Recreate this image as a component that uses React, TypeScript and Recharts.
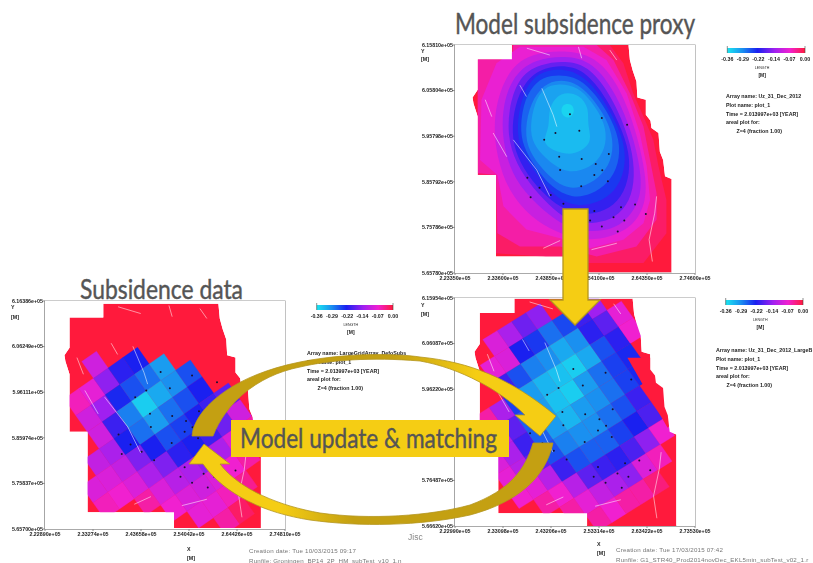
import { ScatterChart, Scatter, XAxis, YAxis, ReferenceArea } from "recharts";

type Pt = [number, number];

// all field geometry is in km (easting, northing), the axis labels multiply by 1000
const fieldOutline: Pt[] = [
  [235.5, 615.8], [260.4, 615.8], [260.7, 612.5], [261.3, 610.2], [262.1, 607.8], [262.3, 604.3], [264.1, 603.8], [264.1, 600.5],
  [265.1, 599.2], [265.3, 597.6], [266.8, 596.5], [267.1, 592.4], [267.8, 590.6], [268.2, 587.0], [269.6, 586.4], [269.6, 565.9],
  [250.8, 565.9], [250.8, 569.4], [232.1, 569.4], [232.1, 587.3], [228.2, 587.3], [228.2, 600.1], [227.3, 603.0], [227.1, 604.3],
  [228.2, 606.0], [228.2, 612.7], [235.5, 612.7],
];

const contourLevels = [-0.02, -0.05, -0.075, -0.105, -0.14, -0.175, -0.205, -0.235, -0.262, -0.285, -0.305, -0.325, -0.345];
const contours: Pt[][] = [
  [[235.5, 615.8], [256.4, 615.8], [259.3, 611.8], [261.4, 605.2], [263.6, 600.1], [265.7, 595.0], [266.8, 589.2], [268.5, 581.8], [268.5, 574.5], [263.6, 568.0], [249.3, 568.0], [242.2, 569.4], [232.1, 570.1], [232.1, 587.3], [228.2, 587.3], [228.2, 612.7], [235.5, 612.7]],
  [[235.8, 615.8], [253.6, 615.8], [257.2, 612.5], [260.7, 605.2], [263.6, 597.9], [265.0, 590.6], [266.4, 583.3], [266.4, 577.5], [262.1, 571.6], [253.6, 569.4], [245.8, 571.6], [237.2, 571.6], [232.4, 574.5], [232.1, 587.3], [228.2, 587.7], [228.2, 612.7], [235.5, 612.7]],
  [[237.2, 615.4], [250.8, 615.4], [255.7, 612.5], [260.0, 605.2], [262.8, 596.5], [264.3, 589.2], [265.0, 581.8], [263.6, 576.7], [259.3, 573.1], [252.2, 571.2], [245.8, 573.4], [238.6, 575.3], [233.7, 580.4], [232.4, 587.3], [228.7, 590.6], [229.0, 603.8], [232.2, 611.8]],
  [[239.0, 614.2], [249.6, 614.8], [255.4, 611.5], [259.7, 604.0], [262.5, 595.0], [264.0, 587.7], [264.3, 581.8], [261.8, 576.3], [256.6, 573.6], [250.8, 572.8], [244.9, 574.8], [239.7, 577.8], [234.7, 583.8], [232.2, 591.3], [231.4, 600.1], [234.0, 609.3]],
  [[240.0, 612.9], [249.6, 613.7], [254.7, 610.0], [259.0, 602.5], [261.8, 594.3], [263.2, 587.0], [262.9, 581.6], [259.6, 576.7], [255.2, 574.9], [250.0, 574.9], [245.6, 576.7], [240.8, 580.8], [236.1, 586.0], [233.6, 593.5], [233.3, 601.6], [235.4, 608.5]],
  [[241.1, 611.8], [249.3, 612.6], [254.0, 608.9], [258.3, 601.5], [261.1, 593.5], [261.8, 587.0], [260.8, 581.5], [257.5, 577.8], [253.6, 576.7], [249.3, 576.7], [245.5, 578.6], [241.2, 583.0], [237.2, 588.2], [234.7, 594.3], [234.7, 601.6], [236.8, 608.5]],
  [[242.2, 611.1], [248.9, 611.5], [253.3, 607.8], [257.6, 600.7], [260.4, 593.5], [260.8, 587.7], [259.0, 582.2], [255.3, 579.3], [251.5, 578.5], [247.7, 579.3], [244.0, 581.4], [239.7, 585.9], [236.5, 591.3], [235.4, 596.5], [236.1, 602.6], [238.2, 607.8]],
  [[242.9, 610.4], [248.2, 610.6], [252.9, 607.1], [256.8, 600.8], [259.7, 594.3], [259.7, 588.2], [257.6, 583.7], [253.8, 581.1], [249.3, 580.3], [244.8, 582.2], [240.7, 587.5], [237.2, 592.8], [236.5, 597.9], [237.5, 604.1], [239.7, 608.5]],
  [[243.6, 609.3], [248.9, 609.1], [252.6, 606.0], [256.1, 601.0], [258.6, 595.0], [258.4, 589.7], [256.1, 585.5], [252.4, 582.9], [248.3, 582.2], [244.0, 584.5], [240.4, 589.0], [237.9, 593.5], [237.2, 597.9], [238.2, 604.1], [240.7, 607.8]],
  [[244.7, 608.2], [248.9, 607.8], [252.2, 604.9], [255.8, 599.6], [257.2, 595.0], [256.8, 590.4], [254.2, 586.6], [250.2, 584.4], [246.6, 584.4], [243.0, 587.4], [239.7, 591.5], [238.2, 595.7], [239.0, 601.9], [241.5, 606.4]],
  [[245.4, 607.4], [249.6, 606.7], [252.6, 603.3], [255.4, 598.8], [255.8, 594.1], [253.9, 590.2], [250.2, 588.0], [246.3, 588.0], [242.6, 591.0], [240.0, 594.1], [239.3, 597.9], [240.4, 603.3], [242.2, 606.4]],
  [[245.8, 605.7], [250.1, 605.0], [252.0, 601.8], [251.6, 598.3], [252.7, 594.8], [250.3, 592.4], [247.2, 591.6], [243.2, 593.2], [242.1, 595.0], [243.6, 597.9], [243.2, 601.9]],
  [[246.0, 602.8], [248.4, 603.1], [249.0, 601.0], [247.7, 599.5], [246.0, 600.4]],
];

const wells: Pt[] = [
  [247.9, 600.6], [254.7, 599.8], [249.9, 597.0], [244.8, 596.5], [242.4, 595.0], [245.6, 591.3], [250.4, 590.8], [256.2, 591.9],
  [253.4, 589.7], [254.8, 588.3], [253.1, 587.3], [245.8, 588.4], [256.0, 585.9], [250.3, 584.8], [238.8, 586.7], [241.4, 584.5],
  [239.5, 582.4], [243.8, 582.9], [246.5, 581.0], [261.8, 580.8], [258.8, 580.2], [257.2, 578.0], [259.5, 577.3], [252.2, 577.3],
  [254.7, 576.0], [258.1, 574.9], [260.1, 598.3], [264.1, 578.7], [253.1, 579.4],
];

const faults: Pt[][] = [
  [[237.2, 607.0], [238.6, 604.5]],
  [[241.9, 606.3], [244.3, 600.5], [245.1, 597.9]],
  [[231.5, 596.5], [234.4, 591.3]],
  [[235.8, 595.0], [240.8, 588.4], [243.6, 582.6]],
  [[249.7, 615.4], [250.4, 612.9]],
  [[266.4, 582.6], [266.0, 578.9], [264.8, 573.1], [265.5, 568.3]],
  [[242.2, 571.2], [245.8, 572.9]],
  [[252.5, 570.9], [257.9, 572.3]],
  [[229.8, 603.8], [231.2, 600.1]],
  [[256.4, 614.7], [257.9, 612.5]],
  [[238.7, 615.1], [243.6, 613.6]],
];

// values per tile, rows along the second grid direction, columns start at index firstColumn
const firstColumn = -4;
const dataTiles: (number | null)[][] = [
  [null, null, null, null, -0.1],
  [null, null, -0.06, -0.08, -0.15, -0.21, -0.22],
  [null, null, -0.1, -0.14, -0.225, -0.25, -0.27, -0.3],
  [null, null, -0.1, -0.2, -0.28, -0.34, -0.31, -0.29, -0.25],
  [null, -0.11, -0.13, -0.22, -0.27, -0.3, -0.27, -0.25, -0.22],
  [-0.09, -0.09, -0.11, -0.16, -0.22, -0.25, -0.24, -0.22, -0.2, -0.18],
  [-0.06, -0.07, -0.09, -0.13, -0.16, -0.21, -0.22, -0.2, -0.17, -0.1],
  [null, null, -0.05, -0.09, -0.12, -0.13, -0.15, -0.13, -0.09, -0.05],
  [null, null, null, -0.07, -0.09, -0.1, -0.09, -0.07, -0.05],
  [null, null, null, null, -0.08, -0.08, -0.06, -0.04],
  [null, null, null, null, null, -0.05, -0.02],
];
const modelTiles: (number | null)[][] = [
  [null, null, null, null, -0.09, -0.13, -0.17, -0.15],
  [null, null, null, -0.08, -0.09, -0.22, -0.235, -0.27, -0.245, -0.2, -0.14],
  [null, null, null, -0.2, -0.25, -0.28, -0.29, -0.31, -0.29, -0.21, -0.18, -0.08],
  [null, -0.05, -0.13, -0.24, -0.3, -0.32, -0.33, -0.34, -0.31, -0.25, -0.21, -0.07],
  [null, -0.12, -0.18, -0.26, -0.3, -0.33, -0.34, -0.3, -0.27, -0.24, -0.225],
  [-0.09, -0.13, -0.2, -0.26, -0.3, -0.32, -0.3, -0.29, -0.27, -0.24, -0.225],
  [-0.08, -0.12, -0.18, -0.25, -0.28, -0.29, -0.29, -0.27, -0.25, -0.2],
  [-0.07, -0.08, -0.12, -0.2, -0.25, -0.26, -0.26, -0.24, -0.22, -0.19],
  [null, -0.05, -0.07, -0.12, -0.18, -0.2, -0.21, -0.19, -0.15, -0.07],
  [null, null, -0.05, -0.08, -0.11, -0.13, -0.15, -0.09, -0.06],
  [null, null, null, -0.05, -0.07, -0.05, -0.05, -0.03],
];
// no-data wedge on the north-east flank of the model tiles
const modelNoData: Pt[] = [[259.3, 603.0], [267.75, 587.9], [270.0, 591.1], [270.0, 603.0]];

// rotated tile grids: corner of tile (0,0) and the two edge vectors, km
const dataGrid = { origin: [230.84, 602.92], u: [3.18, 2.29], v: [2.53, -3.7] };
const modelGrid = { origin: [228.84, 606.95], u: [3.03, 1.94], v: [2.47, -3.6] };

const topX = [223.35, 233.6, 243.85, 254.1, 264.35, 274.6];
const topY = [565.78, 575.786, 585.792, 595.798, 605.804, 615.81];
const leftX = [222.89, 233.274, 243.658, 254.042, 264.426, 274.81];
const leftY = [565.7, 575.837, 585.974, 596.111, 606.249, 616.386];
const rightX = [222.99, 233.098, 243.206, 253.314, 263.422, 273.53];
const rightY = [566.62, 576.487, 586.354, 596.22, 606.087, 615.954];

const scaleValues = [-0.36, -0.29, -0.22, -0.14, -0.07, 0];
const scaleColors = ["#1ae6f0", "#1a90f0", "#1a20f0", "#a020f0", "#f020d0", "#ff1a3c"];
const scaleLabels = ["-0.36", "-0.29", "-0.22", "-0.14", "-0.07", "0.00"];

const FONT = "'Liberation Sans', Arial, sans-serif";
const TITLE_FONT = "Lato, 'Open Sans', sans-serif";

function colorFor(value: number) {
  let i = 0;
  while (i < scaleValues.length - 2 && value > scaleValues[i + 1]) i++;
  const t = Math.min(1, Math.max(0, (value - scaleValues[i]) / (scaleValues[i + 1] - scaleValues[i])));
  const c = (hex: string, p: number) => parseInt(hex.slice(p, p + 2), 16);
  const mix = (p: number) => Math.round(c(scaleColors[i], p) * (1 - t) + c(scaleColors[i + 1], p) * t);
  return `rgb(${mix(1)},${mix(3)},${mix(5)})`;
}

const xy = (pts: Pt[]) => pts.map(([x, y]) => ({ x, y }));
const noDot = () => <g />;
const wellDot = (p: any) => <circle cx={p.cx} cy={p.cy} r={1} fill="#1a1030" />;
const sciLabel = (v: number) => (v * 1000).toExponential(5).replace("e+5", "e+05");

function tilePolys(tiles: (number | null)[][], grid: typeof dataGrid) {
  const out: { pts: { x: number; y: number }[]; color: string }[] = [];
  tiles.forEach((row, b) =>
    row.forEach((val, col) => {
      if (val === null) return;
      const a = col + firstColumn;
      const corner = (i: number, j: number) => ({
        x: grid.origin[0] + (a + i) * grid.u[0] + (b + j) * grid.v[0],
        y: grid.origin[1] + (a + i) * grid.u[1] + (b + j) * grid.v[1],
      });
      out.push({ pts: [corner(0, 0), corner(1, 0), corner(1, 1), corner(0, 1)], color: colorFor(val) });
    })
  );
  return out;
}

function Panel({ left, top, xTicks, yTicks, children }: any) {
  const tickStyle = { fontSize: 5.3, fill: "#222", fontFamily: FONT, fontWeight: 700 };
  const xd = [xTicks[0], xTicks[xTicks.length - 1]];
  const yd = [yTicks[0], yTicks[yTicks.length - 1]];
  // white surround: plot rectangle with the field cut out of it
  const surround: Pt[] = [
    [xd[0], yd[1]], [xd[1], yd[1]], [xd[1], yd[0]], [xd[0], yd[0]], [xd[0], yd[1]],
    ...fieldOutline, fieldOutline[0], [xd[0], yd[1]],
  ];
  return (
    <div style={{ position: "absolute", left: left - 50, top: top - 10 }}>
      <ScatterChart width={315} height={255} margin={{ top: 10, right: 25, bottom: 0, left: 0 }}>
        <XAxis type="number" dataKey="x" domain={xd} ticks={xTicks} interval={0} allowDataOverflow tickFormatter={sciLabel} tick={tickStyle} tickSize={2} tickMargin={1} height={17} stroke="#8a8a8a" />
        <YAxis type="number" dataKey="y" domain={yd} ticks={yTicks} interval={0} allowDataOverflow tickFormatter={sciLabel} tick={tickStyle} tickSize={2} tickMargin={0} width={50} stroke="#8a8a8a" />
        {/* field background */}
        <Scatter data={xy(fieldOutline)} shape={noDot} line={{ fill: "#ff1a3c", stroke: "none" }} lineJointType="linearClosed" isAnimationActive={false} />
        {children}
        <Scatter data={xy(surround)} shape={noDot} line={{ fill: "#fff", stroke: "none", fillRule: "evenodd" }} lineJointType="linearClosed" isAnimationActive={false} />
        {faults.map((f, i) => (
          <Scatter key={`f${i}`} data={xy(f)} shape={noDot} line={{ stroke: "#fff", strokeWidth: 0.7, strokeOpacity: 0.75, fill: "none" }} isAnimationActive={false} />
        ))}
        <Scatter data={xy(wells)} shape={wellDot} isAnimationActive={false} />
        <ReferenceArea x1={xd[0]} x2={xd[1]} y1={yd[0]} y2={yd[1]} fill="none" fillOpacity={0} stroke="#9a9a9a" strokeWidth={1.2} />
      </ScatterChart>
    </div>
  );
}

function tileSeries(tiles: (number | null)[][], grid: typeof dataGrid) {
  return tilePolys(tiles, grid).map((t, i) => (
    <Scatter key={`t${i}`} data={t.pts} shape={noDot} line={{ fill: t.color, stroke: t.color, strokeWidth: 0.3 }} lineJointType="linearClosed" isAnimationActive={false} />
  ));
}

function ColorBar({ x, y, width, id }: { x: number; y: number; width: number; id: string }) {
  return (
    <g fontFamily={FONT} fill="#222" fontWeight={700}>
      <defs>
        <linearGradient id={id}>
          {scaleValues.map((v, i) => (
            <stop key={v} offset={(v + 0.36) / 0.36} stopColor={scaleColors[i]} />
          ))}
        </linearGradient>
      </defs>
      <rect x={x} y={y} width={width} height={5} fill={`url(#${id})`} />
      <line x1={x} x2={x} y1={y - 2} y2={y + 5} stroke="#444" strokeWidth={0.6} />
      <line x1={x + width} x2={x + width} y1={y - 2} y2={y + 5} stroke="#444" strokeWidth={0.6} />
      {scaleLabels.map((l, i) => (
        <text key={l} x={x + (i * width) / 5} y={y + 13} fontSize={5.3} textAnchor="middle">{l}</text>
      ))}
      <text x={x + width / 2 - 4} y={y + 21} fontSize={3.6} textAnchor="middle" fontWeight={400}>LENGTH</text>
      <text x={x + width / 2 - 4} y={y + 29} fontSize={5} textAnchor="middle">[M]</text>
    </g>
  );
}

function InfoBlock({ x, y, lines }: { x: number; y: number; lines: string[] }) {
  return (
    <g fontFamily={FONT} fontSize={5.3} fill="#222" fontWeight={700}>
      {lines.map((l, i) => (
        <text key={l} x={i === 4 ? x + 10.5 : x} y={y + i * 8.8}>{l}</text>
      ))}
    </g>
  );
}

export default function App() {
  return (
    <div style={{ position: "absolute", left: 0, top: 0, width: 813, height: 563, overflow: "hidden", background: "#fff" }}>
      <div style={{ position: "absolute", inset: 0, filter: "blur(0.4px)" }}>
        <Panel left={455} top={45} xTicks={topX} yTicks={topY}>
          {contours.map((pts, i) => (
            <Scatter key={`c${i}`} data={xy(pts)} shape={noDot} line={{ fill: colorFor(contourLevels[i]), stroke: "none" }} lineJointType={i < 3 ? "linearClosed" : "basisClosed"} isAnimationActive={false} />
          ))}
        </Panel>
        <Panel left={45} top={301} xTicks={leftX} yTicks={leftY}>{tileSeries(dataTiles, dataGrid)}</Panel>
        <Panel left={455} top={298} xTicks={rightX} yTicks={rightY}>
          {tileSeries(modelTiles, modelGrid)}
          <Scatter data={xy(modelNoData)} shape={noDot} line={{ fill: "#ff1a3c", stroke: "none" }} lineJointType="linearClosed" isAnimationActive={false} />
        </Panel>
      </div>

      <svg width={813} height={563} style={{ position: "absolute", left: 0, top: 0 }}>
        <defs>
          <linearGradient id="upperArrow" gradientUnits="userSpaceOnUse" x1={192} x2={556} y1={0} y2={0}>
            <stop offset="0.55" stopColor="#c4a012" />
            <stop offset="0.78" stopColor="#f5cd14" />
          </linearGradient>
          <linearGradient id="lowerArrow" gradientUnits="userSpaceOnUse" x1={189} x2={553} y1={0} y2={0}>
            <stop offset="0.25" stopColor="#f5cd14" />
            <stop offset="0.45" stopColor="#c4a012" />
          </linearGradient>
        </defs>
        <g style={{ filter: "blur(0.4px)" }}>
          <ColorBar x={727.3} y={48} width={77.7} id="bar1" />
          <ColorBar x={316.7} y={305} width={76.3} id="bar2" />
          <ColorBar x={725.7} y={300} width={77.3} id="bar3" />
          <InfoBlock x={726} y={98} lines={["Array name: Uz_31_Dec_2012", "Plot name: plot_1", "Time = 2.013997e+03 [YEAR]", "areal plot for:", "Z=4 (fraction 1.00)"]} />
          <InfoBlock x={307} y={355} lines={["Array name: LargeGridArray_DefoSubs", "Plot name: plot_1", "Time = 2.013997e+03 [YEAR]", "areal plot for:", "Z=4 (fraction 1.00)"]} />
          <InfoBlock x={716} y={352} lines={["Array name: Uz_31_Dec_2012_LargeB", "Plot name: plot_1", "Time = 2.013997e+03 [YEAR]", "areal plot for:", "Z=4 (fraction 1.00)"]} />
          <g fontFamily={FONT} fontSize={5.3} fontWeight={700} fill="#222">
            <text x={421} y={53}>Y</text>
            <text x={421} y={61}>[M]</text>
            <text x={11} y={309}>Y</text>
            <text x={11} y={319}>[M]</text>
            <text x={421} y={307}>Y</text>
            <text x={421} y={316}>[M]</text>
            <text x={187} y={551}>X</text>
            <text x={187} y={560}>[M]</text>
            <text x={597} y={546}>X</text>
            <text x={597} y={555}>[M]</text>
          </g>
          <g fontFamily={FONT} fontSize={6.2} fill="#777" letterSpacing={0.18}>
            <text x={249} y={552.5}>Creation date: Tue 10/03/2015 09:17</text>
            <text x={249} y={562.5}>Runfile: Groningen_BP14_2P_HM_subTest_v10_1.n</text>
            <text x={616} y={551.5}>Creation date: Tue 17/03/2015 07:42</text>
            <text x={616} y={562}>Runfile: G1_STR40_Prod2014novDec_EKL5min_subTest_v02_1.r</text>
          </g>
          <text x={408} y={540} fontFamily={FONT} fontSize={8.5} fill="#888">Jisc</text>
        </g>

        <text x={455} y={34} fontFamily={TITLE_FONT} fontSize={28} fill="#555" stroke="#555" strokeWidth={0.4} textLength={240} lengthAdjust="spacingAndGlyphs">Model subsidence proxy</text>
        <text x={80} y={299} fontFamily={TITLE_FONT} fontSize={26} fill="#555" stroke="#555" strokeWidth={0.4} textLength={163} lengthAdjust="spacingAndGlyphs">Subsidence data</text>

        <path d="M563,209 L588,209 L588,300 L600,300 L575,325 L550,300 L563,300 Z" fill="#f5cd14" stroke="#b4961e" strokeWidth={1.3} />
        <path d="M192,436 L193,430 C200,405 235,375 300,362 C350,352 400,354 420,357 C470,362 510,378 556,416 L540,436 L515,415 L525,415 C500,390 460,368 420,361 C370,357 330,360 300,367 C255,376 225,405 213,436 Z" fill="url(#upperArrow)" stroke="#b4961e" strokeWidth={0.8} />
        <path d="M189,464 L204,444 L230,464 L220,464 C240,490 280,506 320,513 C370,520 430,516 470,505 C510,490 525,470 533,443 L553,443 C545,480 515,503 470,515 C420,526 360,527 310,520 C265,513 225,495 203,464 Z" fill="url(#lowerArrow)" stroke="#b4961e" strokeWidth={0.8} />

        <rect x={231} y={420} width={278} height={37} fill="#f5cd14" />
        <text x={240} y={448} fontFamily={TITLE_FONT} fontSize={27} fill="#555" stroke="#555" strokeWidth={0.4} textLength={257} lengthAdjust="spacingAndGlyphs">Model update &amp; matching</text>
      </svg>
    </div>
  );
}
